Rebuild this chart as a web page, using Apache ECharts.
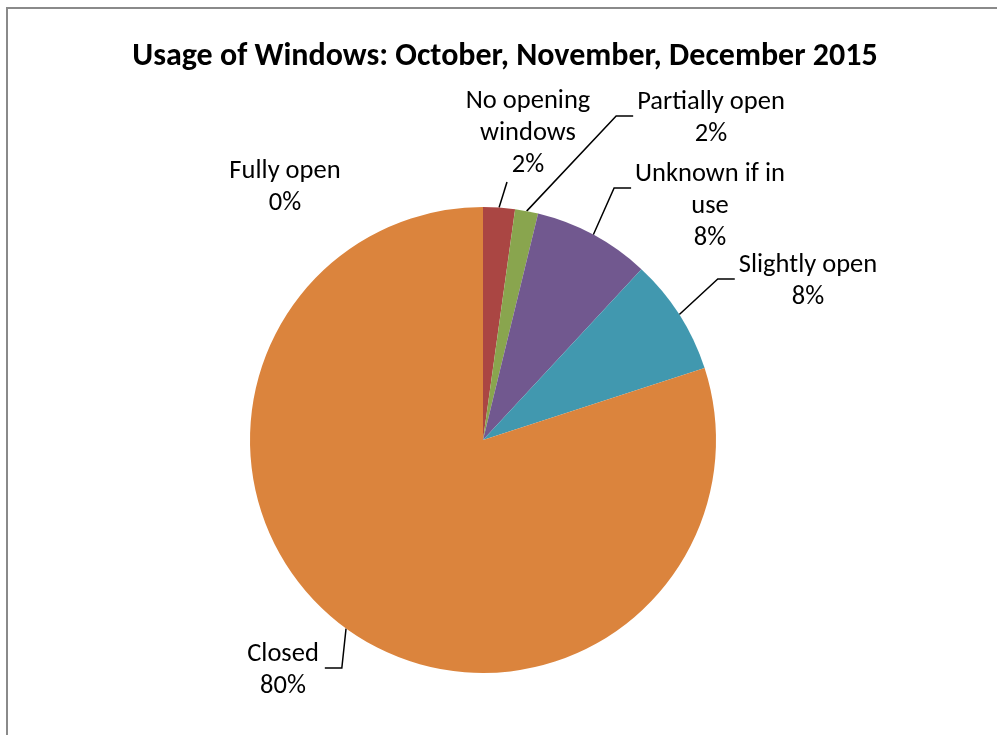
<!DOCTYPE html>
<html><head><meta charset="utf-8">
<script src="https://cdn.jsdelivr.net/npm/echarts@6/dist/echarts.min.js"></script>
<style>html,body{margin:0;padding:0;background:#fff}#c{width:997px;height:735px}</style>
</head><body><div id="c"></div>
<script>
const titleText = 'Usage of Windows: October, November, December 2015';
const categories = ['Fully open', 'No opening windows', 'Partially open', 'Unknown if in use', 'Slightly open', 'Closed'];
const values = [0, 2.2, 1.6, 8.1, 8.1, 80.0];
const labelNames = ['Fully open', 'No opening\nwindows', 'Partially open', 'Unknown if in\nuse', 'Slightly open', 'Closed'];
const colors = ['#4572A7', '#AA4643', '#89A54E', '#71588F', '#4198AF', '#DB843D'];

// label placement (style/layout only)
const labelCfg = [
  { x: 285, y: 187, side: 'none' },
  { x: 528, y: 133, side: 'bottom', dx: -21 },
  { x: 711, y: 118, side: 'left' },
  { x: 710, y: 206, side: 'left' },
  { x: 808, y: 281, side: 'left' },
  { x: 283, y: 670, side: 'right' }
];
const FONT = 'Carlito, Lato, "Liberation Sans", sans-serif';
const LH = 32;

const chart = echarts.init(document.getElementById('c'), null, { renderer: 'canvas' });
chart.setOption({
  animation: false,
  backgroundColor: '#fff',
  graphic: [
    { type: 'rect', shape: { x: 7, y: 8, width: 1010, height: 760 }, style: { fill: 'none', stroke: '#8a8a8a', lineWidth: 2 }, silent: true },
    { type: 'text', x: 505, y: 57, style: { text: titleText, font: 'bold 32px ' + FONT, fill: '#000', textAlign: 'center', textVerticalAlign: 'middle' } }
  ],
  series: [{
    type: 'pie',
    center: [483, 440],
    radius: 233,
    startAngle: 90,
    clockwise: true,
    percentPrecision: 0,
    avoidLabelOverlap: false,
    emphasis: { disabled: true },
    data: categories.map((c, i) => ({
      name: c, value: values[i],
      itemStyle: { color: colors[i] },
      label: { formatter: labelNames[i] + '\n{d}%' },
      labelLine: { show: i !== 0 }
    })),
    label: {
      show: true, position: 'outside', color: '#000', fontFamily: FONT, fontSize: 26.5, lineHeight: LH, align: 'center'
    },
    labelLine: { show: true, smooth: false, length: 20, length2: 15, lineStyle: { color: '#000', width: 1.5 } },
    labelLayout: function (p) {
      const c = labelCfg[p.dataIndex];
      const w = p.labelRect.width, h = p.labelRect.height;
      const left = c.x - w / 2, top = c.y - h / 2, right = c.x + w / 2, bottom = c.y + h / 2;
      const res = { x: c.x, y: c.y, align: 'center', verticalAlign: 'middle' };
      const p0 = p.labelLinePoints && p.labelLinePoints[0];
      if (p0) {
        if (c.side === 'left') {
          const ey = top + LH - 2;
          res.labelLinePoints = [p0, [left - 21, ey], [left - 4, ey]];
        } else if (c.side === 'right') {
          const ey = top + LH - 2;
          res.labelLinePoints = [p0, [right + 23, ey], [right + 6, ey]];
        } else if (c.side === 'bottom') {
          res.labelLinePoints = [p0, [c.x + c.dx, bottom + 1], [c.x + c.dx, bottom + 1]];
        }
      }
      return res;
    }
  }]
});
</script></body></html>
